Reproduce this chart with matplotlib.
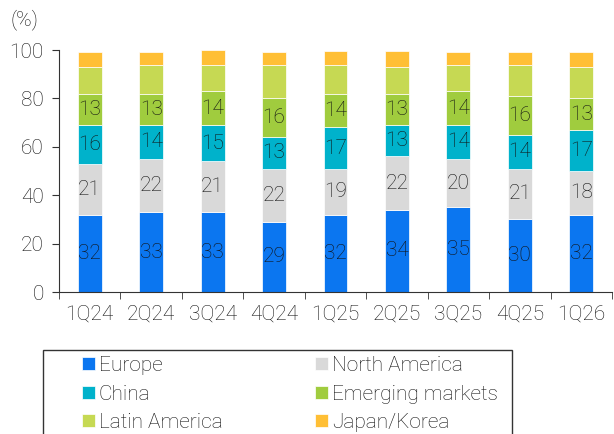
import numpy as np
import matplotlib
matplotlib.use('Agg')
import matplotlib.pyplot as plt
from matplotlib.patches import Rectangle

plt.rcParams['font.family'] = ['Roboto', 'DejaVu Sans']
plt.rcParams['font.weight'] = 'light'

quarters = ['1Q24', '2Q24', '3Q24', '4Q24', '1Q25', '2Q25', '3Q25', '4Q25', '1Q26']
europe = [32, 33, 33, 29, 32, 34, 35, 30, 32]
north_america = [21, 22, 21, 22, 19, 22, 20, 21, 18]
china = [16, 14, 15, 13, 17, 13, 14, 14, 17]
emerging = [13, 13, 14, 16, 14, 13, 14, 16, 13]
latin_america = [11, 12, 11, 14, 12, 11, 11, 13, 13]
japan_korea = [6, 5, 6, 5, 5.5, 6.5, 5, 5, 6]

series = [
    ('Europe', europe, '#0B76F0', True),
    ('North America', north_america, '#D9D9D9', True),
    ('China', china, '#00B2CB', True),
    ('Emerging markets', emerging, '#A0CC3E', True),
    ('Latin America', latin_america, '#C6D953', False),
    ('Japan/Korea', japan_korea, '#FFBF35', False),
]

txt = '#111111'

fig = plt.figure(figsize=(6.14, 4.34), dpi=100)
ax = fig.add_axes([59/614, 1 - 292/434, 553/614, 242/434])

x = np.arange(len(quarters))
bottom = np.zeros(len(quarters))
handles = []
for name, vals, color, labelled in series:
    vals = np.array(vals, dtype=float)
    bars = ax.bar(x, vals, 0.39, bottom=bottom, color=color,
                  edgecolor='white', linewidth=0.5, label=name)
    if labelled:
        ax.bar_label(bars, labels=['%d' % v for v in vals], label_type='center',
                     fontsize=15, color=txt)
    handles.append(bars)
    bottom += vals

ax.set_xlim(-0.5, len(quarters) - 0.5)
ax.set_ylim(0, 100)
ax.set_yticks(range(0, 101, 20))
ax.set_xticks(x)
ax.set_xticklabels(quarters)
ax.set_xticks(np.arange(-0.5, len(quarters), 1), minor=True)
ax.tick_params(axis='x', which='major', length=0, pad=9, labelsize=15, labelcolor=txt)
ax.tick_params(axis='x', which='minor', length=5, color='#333333')
ax.tick_params(axis='y', length=5, pad=6, labelsize=15, labelcolor=txt, color='#333333')
for s in ['top', 'right']:
    ax.spines[s].set_visible(False)
for s in ['left', 'bottom']:
    ax.spines[s].set_color('#333333')

fig.text(10/614, 1 - 20/434, '(%)', fontsize=15, color=txt, va='center')

# legend frame runs off the bottom of the figure
fig.patches.append(Rectangle((43/614, -0.05), 469/614, (434 - 350)/434 + 0.05,
                             transform=fig.transFigure, fill=False,
                             edgecolor='#333333', linewidth=1))

# row-wise legend order: two columns
order = [0, 2, 4, 1, 3, 5]
leg = fig.legend([handles[i] for i in order], [series[i][0] for i in order], ncol=2,
                 loc='upper left', bbox_to_anchor=(78/614, 0, 424/614, 82/434),
                 mode='expand', frameon=False, fontsize=15,
                 handlelength=0.6, handleheight=0.6, handletextpad=0.2,
                 labelspacing=0.45, borderaxespad=0, borderpad=0.2)
for t in leg.get_texts():
    t.set_color(txt)

fig.savefig('out.png', dpi=100)
